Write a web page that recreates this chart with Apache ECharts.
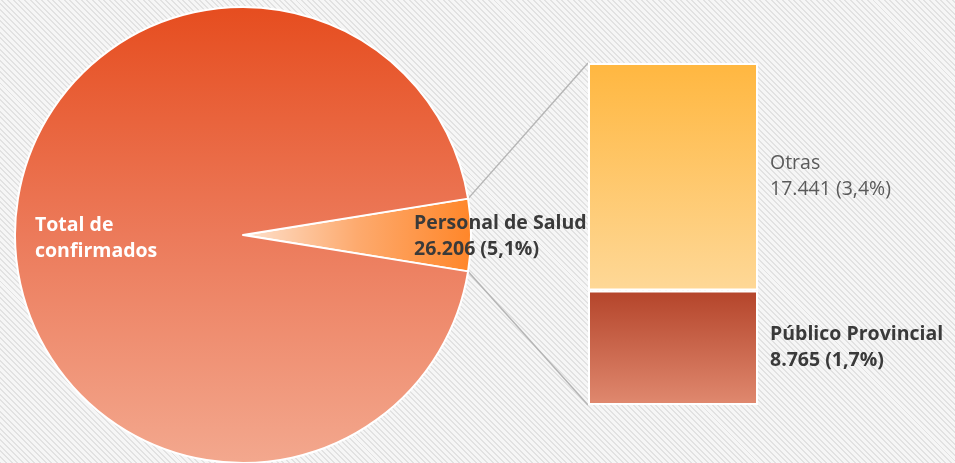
<!DOCTYPE html>
<html>
<head>
<meta charset="utf-8">
<script src="https://cdn.jsdelivr.net/npm/echarts@6/dist/echarts.min.js"></script>
<style>
  html, body { margin: 0; padding: 0; }
  body {
    width: 955px; height: 463px; overflow: hidden;
    background: repeating-linear-gradient(45deg, #e2e2e2 0 1.4px, #f6f6f6 1.4px 4px);
  }
  #chart { width: 955px; height: 463px; }
</style>
</head>
<body>
<div id="chart"></div>
<script>
// === DATOS ===
const pieNames = ['Personal de Salud', 'Total de confirmados'];
const pieValues = [26206, 487600];
const pieShare = ['5,1%', ''];

const barNames = ['Público Provincial', 'Otras'];
const barValues = [8765, 17441];
const barShare = ['1,7%', '3,4%'];

// === GEOMETRÍA ===
const pieCenter = [243, 235];
const pieRadius = 228;
const barGrid = { left: 588, top: 63, width: 170, height: 342 };
const labelSize = 19.5;

function fmt(n) {
    return String(n).replace(/\B(?=(\d{3})+(?!\d))/g, '.');
}

const personal = pieValues[0];
const total = pieValues[0] + pieValues[1];
const halfAngle = personal / total * 180;

const chart = echarts.init(document.getElementById('chart'));

const option = {
    backgroundColor: 'transparent',
    animation: false,
    textStyle: { fontFamily: 'Open Sans' },
    grid: Object.assign({}, barGrid),
    xAxis: { type: 'category', data: ['Personal de Salud'], show: false },
    yAxis: { type: 'value', min: 0, max: personal, show: false },
    series: [
        {
            type: 'pie',
            center: pieCenter,
            radius: pieRadius,
            startAngle: halfAngle,
            clockwise: true,
            itemStyle: { borderColor: '#ffffff', borderWidth: 2 },
            labelLine: { show: false },
            data: [
                {
                    name: pieNames[0], value: pieValues[0],
                    itemStyle: {
                        color: new echarts.graphic.LinearGradient(0, 0, 1, 0, [
                            { offset: 0, color: '#fde2cf' },
                            { offset: 0.5, color: '#fdaa6e' },
                            { offset: 1, color: '#ff8629' }
                        ])
                    },
                    label: {
                        show: true, position: 'inside',
                        formatter: p => p.name + '\n' + fmt(p.value) + ' (' + pieShare[0] + ')',
                        color: '#3a3a3a', fontSize: labelSize, fontWeight: 'bold', lineHeight: 26, align: 'left'
                    }
                },
                {
                    name: pieNames[1], value: pieValues[1],
                    itemStyle: {
                        color: new echarts.graphic.LinearGradient(0, 0, 0, 1, [
                            { offset: 0, color: '#e64d1f' },
                            { offset: 0.5, color: '#ec7a5a' },
                            { offset: 1, color: '#f3a88e' }
                        ])
                    },
                    label: {
                        show: true, position: 'inside',
                        formatter: 'Total de\nconfirmados',
                        color: '#ffffff', fontSize: labelSize, fontWeight: 'bold', lineHeight: 26, align: 'left'
                    }
                }
            ],
            labelLayout: function (params) {
                if (params.dataIndex === 0) {
                    return { x: 414, y: 236, align: 'left', verticalAlign: 'middle' };
                }
                return { x: 35, y: 238, align: 'left', verticalAlign: 'middle' };
            }
        },
        {
            type: 'bar',
            name: barNames[0],
            stack: 'salud',
            barWidth: '100%',
            data: [barValues[0]],
            itemStyle: {
                borderColor: '#ffffff', borderWidth: 2,
                color: new echarts.graphic.LinearGradient(0, 0, 0, 1, [
                    { offset: 0, color: '#b4442a' },
                    { offset: 1, color: '#e0896f' }
                ])
            },
            label: {
                show: true, position: 'right', distance: 12,
                formatter: () => barNames[0] + '\n' + fmt(barValues[0]) + ' (' + barShare[0] + ')',
                color: '#3a3a3a', fontSize: labelSize, fontWeight: 'bold', lineHeight: 26, align: 'left'
            }
        },
        {
            type: 'bar',
            name: barNames[1],
            stack: 'salud',
            barWidth: '100%',
            data: [barValues[1]],
            itemStyle: {
                borderColor: '#ffffff', borderWidth: 2,
                color: new echarts.graphic.LinearGradient(0, 0, 0, 1, [
                    { offset: 0, color: '#ffb740' },
                    { offset: 1, color: '#fed897' }
                ])
            },
            label: {
                show: true, position: 'right', distance: 12,
                formatter: () => barNames[1] + '\n' + fmt(barValues[1]) + ' (' + barShare[1] + ')',
                color: '#5a5a5a', fontSize: labelSize, fontWeight: 'normal', lineHeight: 26, align: 'left'
            }
        }
    ]
};

chart.setOption(option);

// === LÍNEAS DE CONEXIÓN ===
const rad = halfAngle * Math.PI / 180;
const edgeX = pieCenter[0] + pieRadius * Math.cos(rad);
const topY = pieCenter[1] - pieRadius * Math.sin(rad);
const botY = pieCenter[1] + pieRadius * Math.sin(rad);
const barTop = chart.convertToPixel({ gridIndex: 0 }, [0, personal])[1];
const barBot = chart.convertToPixel({ gridIndex: 0 }, [0, 0])[1];
const lineStyle = { stroke: '#b5b5b5', lineWidth: 1.5 };

chart.setOption({
    graphic: [
        { type: 'line', z: -1, shape: { x1: edgeX, y1: topY, x2: barGrid.left, y2: barTop }, style: lineStyle },
        { type: 'line', z: -1, shape: { x1: edgeX, y1: botY, x2: barGrid.left, y2: barBot }, style: lineStyle }
    ]
});
</script>
</body>
</html>
